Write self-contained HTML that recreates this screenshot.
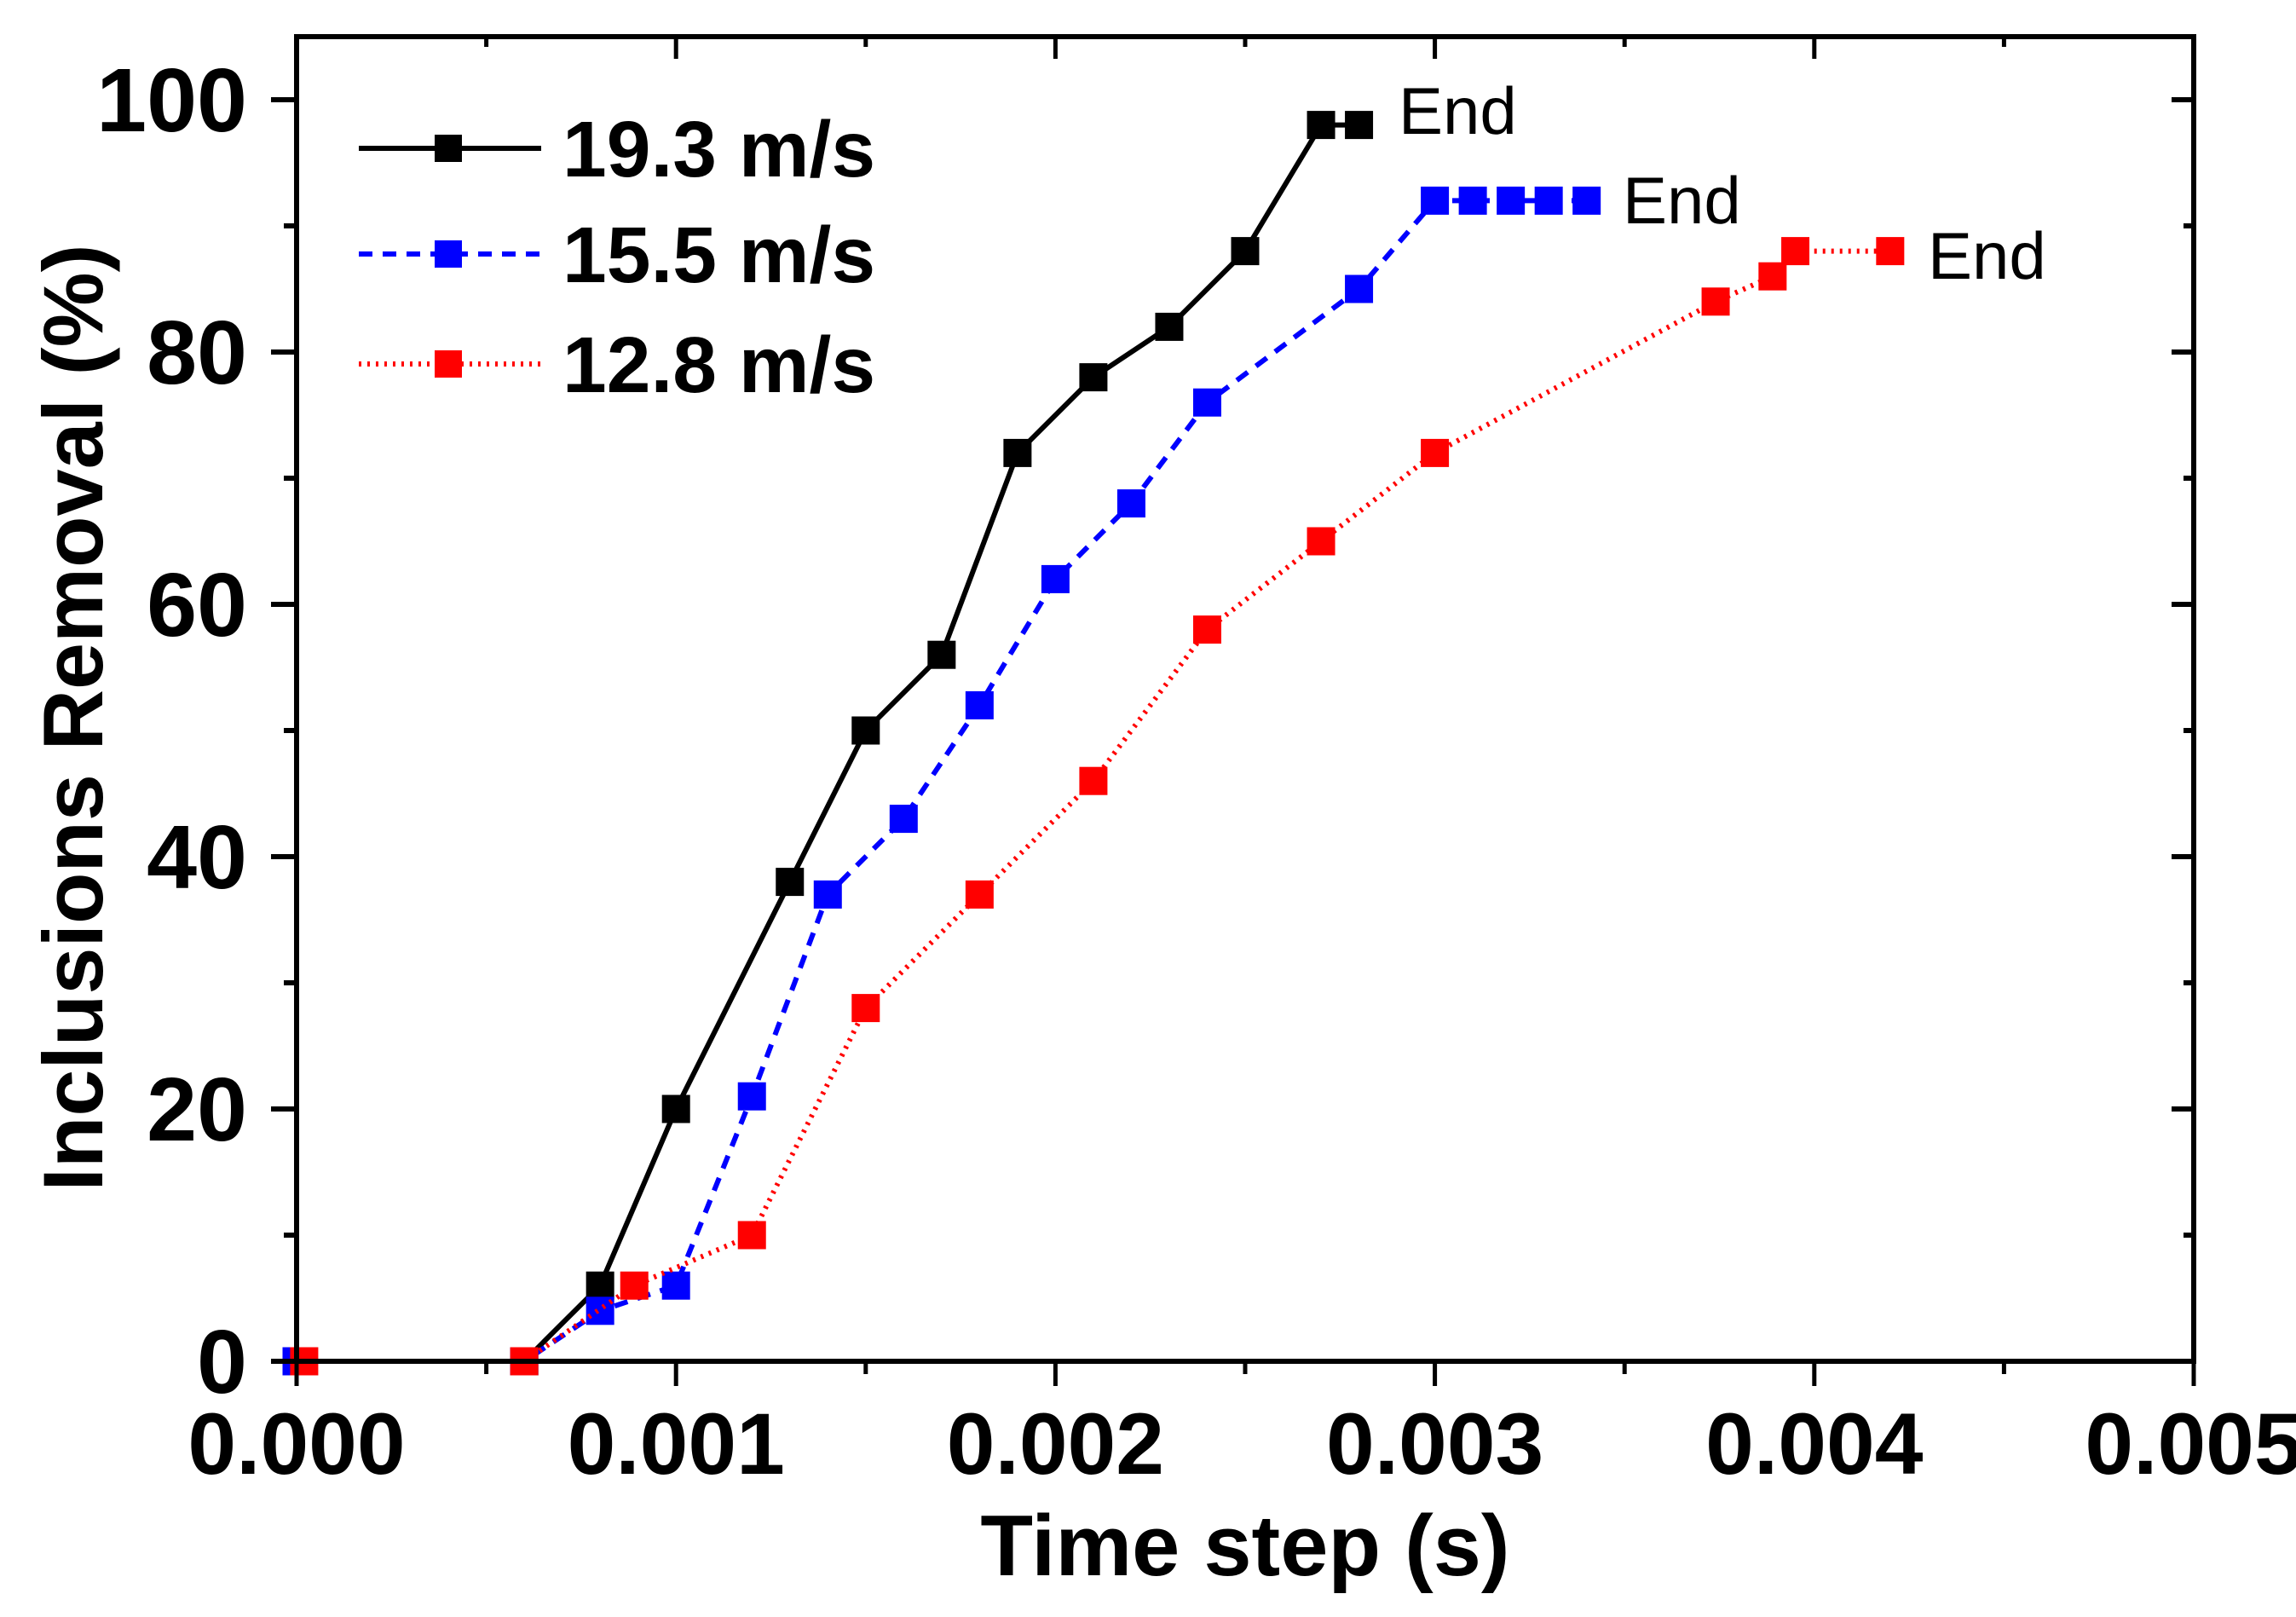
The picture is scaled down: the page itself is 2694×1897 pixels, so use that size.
<!DOCTYPE html>
<html><head><meta charset="utf-8"><style>
html,body{margin:0;padding:0;background:#fff;}
svg{display:block;font-family:"Liberation Sans",Arial,sans-serif;}
</style></head><body>
<svg id="chart" width="2694" height="1897" viewBox="0 0 2694 1897" xmlns="http://www.w3.org/2000/svg">
<rect x="0" y="0" width="2694" height="1897" fill="#fff"/>
<g id="series"></g>
<rect x="348" y="43" width="2226" height="1554" fill="none" stroke="#000" stroke-width="6"/>
<g id="ticks"></g>
<text x="1461" y="1848" font-size="101" font-weight="bold" text-anchor="middle">Time step (s)</text>
<text x="0" y="0" transform="translate(120,842) rotate(-90)" font-size="99" font-weight="bold" text-anchor="middle">Inclusions Removal (%)</text>
<g id="legend">
  <line x1="421" y1="174" x2="635" y2="174" stroke="#000" stroke-width="6"/>
  <rect x="510" y="158" width="32" height="32" fill="#000"/>
  <text x="660" y="207" font-size="93" font-weight="bold">19.3 m/s</text>
  <line x1="421" y1="298" x2="635" y2="298" stroke="#0000ff" stroke-width="6" stroke-dasharray="16,12"/>
  <rect x="510" y="282" width="32" height="32" fill="#0000ff"/>
  <text x="660" y="331" font-size="93" font-weight="bold">15.5 m/s</text>
  <line x1="421" y1="427" x2="635" y2="427" stroke="#ff0000" stroke-width="6" stroke-dasharray="3,7"/>
  <rect x="510" y="411" width="32" height="32" fill="#ff0000"/>
  <text x="660" y="460" font-size="93" font-weight="bold">12.8 m/s</text>
</g>
<text x="1641" y="157" font-size="78">End</text>
<text x="1904" y="262" font-size="78">End</text>
<text x="2262" y="327" font-size="78">End</text>
</svg>
<script>
const xTicks = [0, 0.001, 0.002, 0.003, 0.004, 0.005];
const xTickLabels = ["0.000", "0.001", "0.002", "0.003", "0.004", "0.005"];
const yTicks = [0, 20, 40, 60, 80, 100];
const yTickLabels = ["0", "20", "40", "60", "80", "100"];
const blackX = [0, 0.0006, 0.0008, 0.001, 0.0013, 0.0015, 0.0017, 0.0019, 0.0021, 0.0023, 0.0025, 0.0027, 0.0028];
const blackY = [0, 0, 6, 20, 38, 50, 56, 72, 78, 82, 88, 98, 98];
const blueX = [0, 0.0006, 0.0008, 0.001, 0.0012, 0.0014, 0.0016, 0.0018, 0.002, 0.0022, 0.0024, 0.0028, 0.003, 0.0031, 0.0032, 0.0033, 0.0034];
const blueY = [0, 0, 4, 6, 21, 37, 43, 52, 62, 68, 76, 85, 92, 92, 92, 92, 92];
const redX = [0.00002, 0.0006, 0.00089, 0.0012, 0.0015, 0.0018, 0.0021, 0.0024, 0.0027, 0.003, 0.00374, 0.00389, 0.00395, 0.0042];
const redY = [0, 0, 6, 10, 28, 37, 46, 58, 65, 72, 84, 86, 88, 88];

const NS = "http://www.w3.org/2000/svg";
const X0 = 348, X1 = 2574, Y0 = 1597, Y1 = 117;
function sx(v){ return X0 + (v - 0) / 0.005 * (X1 - X0); }
function sy(v){ return Y0 - v / 100 * (Y0 - Y1); }
function mk(tag, attrs, parent){
  const e = document.createElementNS(NS, tag);
  for (const k in attrs) e.setAttribute(k, attrs[k]);
  parent.appendChild(e);
  return e;
}
const ticks = document.getElementById('ticks');
xTicks.forEach((v, i) => {
  const x = sx(v);
  const t = mk('line', {x1:x, y1:Y0, x2:x, y2:Y0+29, stroke:'#000', 'stroke-width':5}, ticks);
  
  
  const t2 = mk('line', {x1:x, y1:43, x2:x, y2:43+26, stroke:'#000', 'stroke-width':5}, ticks);
  
  
  const lb = mk('text', {x:x, y:1729, 'font-size':102, 'font-weight':'bold', 'text-anchor':'middle'}, ticks);
  lb.textContent = xTickLabels[i];
  
  
  if (i < xTicks.length - 1) {
    const xm = sx(v + 0.0005);
    const m = mk('line', {x1:xm, y1:Y0, x2:xm, y2:Y0+15, stroke:'#000', 'stroke-width':5}, ticks);
    
    
    const m2 = mk('line', {x1:xm, y1:43, x2:xm, y2:43+12, stroke:'#000', 'stroke-width':5}, ticks);
    
    
  }
});
yTicks.forEach((v, i) => {
  const y = sy(v);
  const t = mk('line', {x1:X0-30, y1:y, x2:X0, y2:y, stroke:'#000', 'stroke-width':6}, ticks);
  
  
  const t2 = mk('line', {x1:X1-26, y1:y, x2:X1, y2:y, stroke:'#000', 'stroke-width':6}, ticks);
  
  
  const lb = mk('text', {x:290, y:y+37, 'font-size':106, 'font-weight':'bold', 'text-anchor':'end'}, ticks);
  lb.textContent = yTickLabels[i];
  
  
  if (i < yTicks.length - 1) {
    const ym = sy(v + 10);
    const m = mk('line', {x1:X0-15, y1:ym, x2:X0, y2:ym, stroke:'#000', 'stroke-width':6}, ticks);
    
    
    const m2 = mk('line', {x1:X1-12, y1:ym, x2:X1, y2:ym, stroke:'#000', 'stroke-width':6}, ticks);
    
    
  }
});
const series = document.getElementById('series');
function drawSeries(xs, ys, color, dash, name){
  const g = mk('g', {}, series);
  
  
  const pts = xs.map((x, i) => sx(x) + ',' + sy(ys[i])).join(' ');
  const pl = mk('polyline', {points:pts, fill:'none', stroke:color, 'stroke-width':6, 'stroke-dasharray':dash}, g);
  
  
  xs.forEach((x, i) => {
    const r = mk('rect', {x:sx(x)-16.5, y:sy(ys[i])-16.5, width:33, height:33, fill:color}, g);
    
    
  });
}
drawSeries(blackX, blackY, '#000000', 'none', 'series-19-3');
drawSeries(blueX, blueY, '#0000ff', '16,12', 'series-15-5');
drawSeries(redX, redY, '#ff0000', '3,7', 'series-12-8');
</script>
</body></html>
